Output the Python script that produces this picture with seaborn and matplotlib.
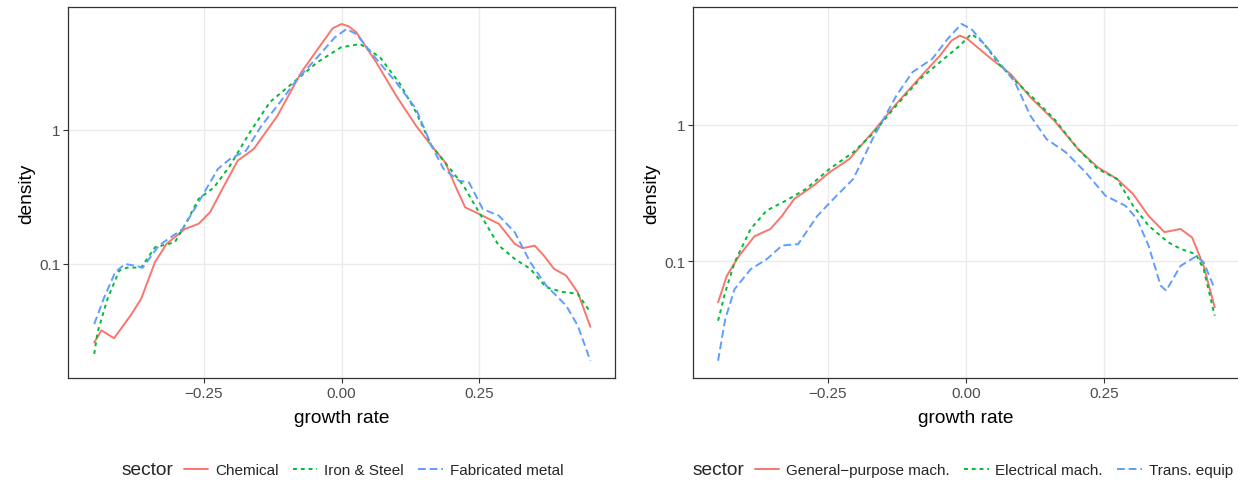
import numpy as np
import pandas as pd
import matplotlib
matplotlib.use("Agg")
import matplotlib.pyplot as plt
from matplotlib.lines import Line2D
import seaborn as sns

# ---------------- data ----------------
left_sectors = ["Chemical", "Iron & Steel", "Fabricated metal"]
right_sectors = ["General\u2212purpose mach.", "Electrical mach.", "Trans. equip"]

chem_x = [-0.448, -0.435, -0.412, -0.381, -0.363, -0.338, -0.317, -0.284, -0.259, -0.238,
          -0.216, -0.188, -0.159, -0.116, -0.073, -0.030, -0.016, 0.0, 0.013, 0.027, 0.063,
          0.099, 0.135, 0.163, 0.188, 0.206, 0.224, 0.249, 0.285, 0.314, 0.328, 0.350,
          0.367, 0.385, 0.407, 0.428, 0.451]
chem_y = [0.026, 0.032, 0.028, 0.042, 0.055, 0.103, 0.141, 0.182, 0.199, 0.243,
          0.361, 0.588, 0.718, 1.27, 2.67, 4.73, 5.68, 6.12, 5.88, 5.30, 3.17,
          1.79, 1.07, 0.76, 0.571, 0.383, 0.264, 0.236, 0.199, 0.141, 0.131, 0.137,
          0.115, 0.092, 0.082, 0.0615, 0.034]

iron_x = [-0.448, -0.442, -0.424, -0.403, -0.388, -0.363, -0.338, -0.302, -0.281, -0.259,
          -0.231, -0.202, -0.166, -0.130, -0.087, -0.044, -0.001, 0.034, 0.070, 0.106,
          0.135, 0.163, 0.192, 0.221, 0.249, 0.285, 0.314, 0.342, 0.371, 0.400, 0.428, 0.451]
iron_y = [0.0214, 0.031, 0.055, 0.089, 0.094, 0.094, 0.133, 0.145, 0.204, 0.305,
          0.372, 0.54, 0.955, 1.6, 2.25, 3.17, 4.1, 4.34, 3.45, 2.19,
          1.35, 0.76, 0.54, 0.383, 0.243, 0.137, 0.109, 0.092, 0.067, 0.062, 0.060, 0.0437]

fab_x = [-0.448, -0.431, -0.410, -0.392, -0.374, -0.360, -0.331, -0.288, -0.259, -0.224,
         -0.202, -0.173, -0.145, -0.116, -0.080, -0.044, -0.012, 0.009, 0.027, 0.063,
         0.099, 0.135, 0.163, 0.185, 0.213, 0.231, 0.256, 0.285, 0.314, 0.342, 0.371,
         0.407, 0.428, 0.451]
fab_y = [0.0357, 0.055, 0.087, 0.100, 0.097, 0.094, 0.137, 0.182, 0.288, 0.51,
         0.605, 0.698, 1.07, 1.51, 2.38, 3.45, 4.87, 5.61, 5.15, 3.36,
         2.25, 1.43, 0.76, 0.51, 0.417, 0.405, 0.256, 0.229, 0.172, 0.103, 0.069,
         0.049, 0.0348, 0.019]

gen_x = [-0.449, -0.433, -0.411, -0.383, -0.354, -0.333, -0.311, -0.276, -0.247, -0.211,
         -0.169, -0.126, -0.083, -0.047, -0.026, -0.011, 0.003, 0.039, 0.081, 0.117,
         0.160, 0.203, 0.239, 0.274, 0.303, 0.331, 0.360, 0.389, 0.410, 0.431, 0.451]
gen_y = [0.0497, 0.078, 0.109, 0.152, 0.172, 0.215, 0.286, 0.358, 0.449, 0.562,
         0.883, 1.43, 2.24, 3.23, 4.17, 4.54, 4.29, 3.23, 2.37, 1.6,
         1.08, 0.667, 0.489, 0.401, 0.311, 0.215, 0.163, 0.172, 0.149, 0.092, 0.0457]

elec_x = [-0.449, -0.436, -0.419, -0.390, -0.361, -0.326, -0.290, -0.247, -0.204, -0.169,
          -0.126, -0.083, -0.040, -0.011, 0.010, 0.031, 0.060, 0.089, 0.124, 0.160,
          0.203, 0.239, 0.274, 0.303, 0.331, 0.367, 0.389, 0.417, 0.431, 0.451]
elec_y = [0.0364, 0.059, 0.098, 0.172, 0.235, 0.278, 0.338, 0.475, 0.63, 0.859,
          1.39, 2.18, 3.06, 3.83, 4.67, 4.05, 2.81, 2.12, 1.55, 1.11,
          0.667, 0.475, 0.401, 0.255, 0.182, 0.137, 0.123, 0.112, 0.087, 0.0396]

trans_x = [-0.449, -0.436, -0.419, -0.390, -0.361, -0.333, -0.304, -0.269, -0.240, -0.204,
           -0.169, -0.126, -0.097, -0.061, -0.033, -0.008, 0.010, 0.046, 0.089, 0.117,
           0.146, 0.181, 0.217, 0.253, 0.289, 0.310, 0.331, 0.353, 0.363, 0.389, 0.417,
           0.431, 0.451]
trans_y = [0.0185, 0.0375, 0.0622, 0.087, 0.103, 0.130, 0.133, 0.215, 0.286, 0.401,
           0.789, 1.64, 2.44, 3.06, 4.29, 5.53, 5.08, 3.42, 2.06, 1.17,
           0.789, 0.63, 0.449, 0.302, 0.255, 0.204, 0.130, 0.066, 0.0605, 0.092, 0.108,
           0.098, 0.0622]

y_ticks = [0.1, 1]
y_tick_labels = ["0.1", "1"]
x_ticks = [-0.25, 0.0, 0.25]
x_tick_labels = ["\u22120.25", "0.00", "0.25"]

# ---------------- style ----------------
sns.set_theme(style="white")
plt.rcParams["font.family"] = ["Liberation Sans", "DejaVu Sans"]

colors = ["#F8766D", "#00BA38", "#619CFF"]
dash_list = ["", (2, 2), (4, 2)]
LW = 1.4


def make_df(xs, ys, names):
    frames = []
    for x, y, n in zip(xs, ys, names):
        frames.append(pd.DataFrame({"growth rate": x, "density": y, "sector": n}))
    return pd.concat(frames, ignore_index=True)


df_left = make_df([chem_x, iron_x, fab_x], [chem_y, iron_y, fab_y], left_sectors)
df_right = make_df([gen_x, elec_x, trans_x], [gen_y, elec_y, trans_y], right_sectors)

W, H = 1238, 485
fig = plt.figure(figsize=(W / 100, H / 100), dpi=100)

panels = [
    (df_left, left_sectors, [68.3, 8.3, 614.7, 379.0], (10 ** -1.849, 10 ** 0.911), 121.5),
    (df_right, right_sectors, [692.7, 8.3, 1239.0, 379.0], (10 ** -1.860, 10 ** 0.865), 692.7),
]

for df, names, (x0, y0, x1, y1), ylim, legx in panels:
    ax = fig.add_axes([x0 / W, 1 - y1 / H, (x1 - x0) / W, (y1 - y0) / H])
    pal = dict(zip(names, colors))
    dsh = dict(zip(names, dash_list))
    sns.lineplot(data=df, x="growth rate", y="density", hue="sector", style="sector",
                 palette=pal, dashes=dsh, hue_order=names, style_order=names,
                 estimator=None, sort=False, linewidth=LW, legend=False, ax=ax)
    ax.set_yscale("log")
    ax.set_xlim(-0.495, 0.495)
    ax.set_ylim(*ylim)
    ax.set_yticks(y_ticks)
    ax.set_yticklabels(y_tick_labels)
    ax.yaxis.set_minor_locator(matplotlib.ticker.NullLocator())
    ax.set_xticks(x_ticks)
    ax.set_xticklabels(x_tick_labels)
    ax.grid(True, which="major", color="#EBEBEB", linewidth=1.0)
    ax.set_axisbelow(True)
    for s in ax.spines.values():
        s.set_color("#333333")
        s.set_linewidth(0.9)
        s.set_visible(True)
    ax.tick_params(axis="both", which="major", length=3.5, width=0.8, color="#333333",
                   labelsize=11, labelcolor="#4D4D4D", pad=2, direction="out",
                   bottom=True, left=True)
    ax.set_xlabel("growth rate", fontsize=13.75, color="black", labelpad=7)
    ax.set_ylabel("density", fontsize=13.75, color="black", labelpad=3)

    # legend at bottom: title on the left, keys in one row
    fig.text(legx / W, 1 - 471 / H, "sector", fontsize=13.75, ha="left", va="center")
    handles = [Line2D([0], [0], color=c, lw=LW, linestyle="-" if d == "" else (0, d))
               for c, d in zip(colors, dash_list)]
    ax.legend(handles, names, loc="center left", ncol=3, frameon=False,
              bbox_to_anchor=((legx + 62) / W, 1 - 471 / H), bbox_transform=fig.transFigure,
              fontsize=11, handlelength=1.6, handletextpad=0.45, columnspacing=0.95,
              borderpad=0, borderaxespad=0)

fig.savefig("out.png", dpi=100)
